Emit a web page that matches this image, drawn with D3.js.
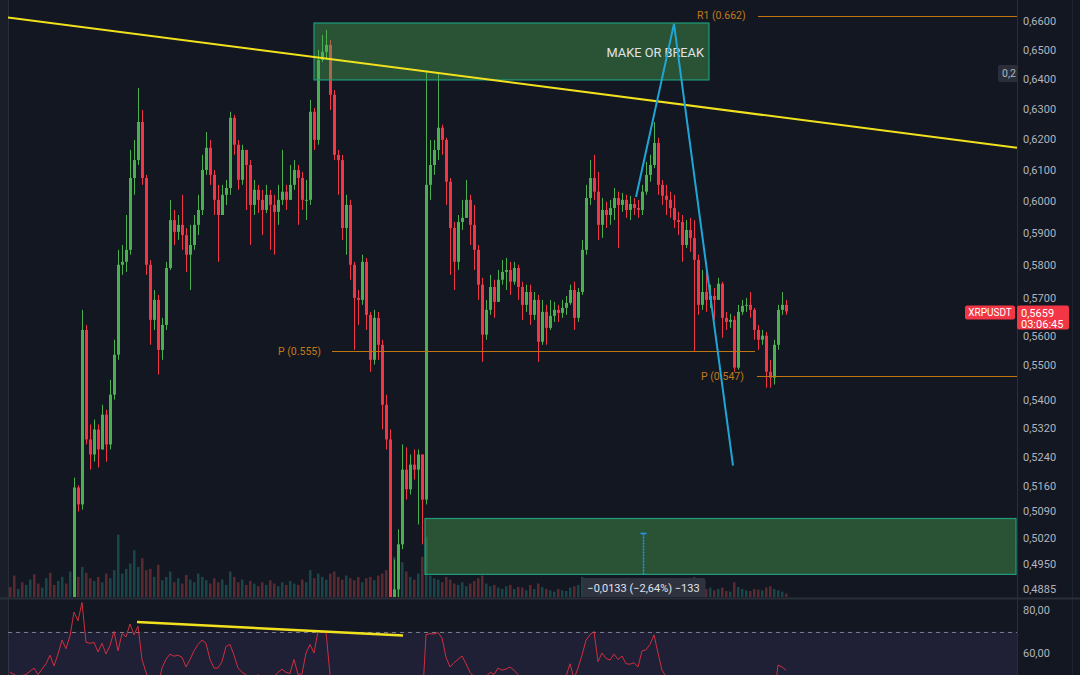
<!DOCTYPE html>
<html>
<head>
<meta charset="utf-8">
<script src="https://cdn.jsdelivr.net/npm/d3@7"></script>
<style>
  body { margin: 0; background: #131722; }
  svg { display: block; font-family: Roboto, "Noto Sans", sans-serif; }
</style>
</head>
<body>
<script>
// candle data (XRPUSDT), open = previous close
const firstOpen = 0.4800;
const closes = [
  .4790,.4760,.4800,.4740,.4780,.4810,.4770,.4730,.4760,.4800,.4790,.4750,.4780,.4820,.4800,.4830,
  .5155,.5109,.5604,.5288,.5246,.5316,.5260,.5358,.5274,.5415,.5531,.5801,.5810,.5847,.6074,.6132,
  .6257,.6074,.5801,.5634,.5694,.5545,.5619,.5791,.5940,.5903,.5925,.5893,.5832,.5862,.5925,.5972,
  .6100,.6172,.6084,.6004,.5956,.6020,.6042,.6271,.6182,.6068,.6165,.6116,.5988,.6036,.6004,.5972,
  .6020,.5988,.5966,.6004,.6030,.6004,.6052,.6100,.6074,.6004,.6004,.6291,.6198,.6466,.6494,.6518,
  .6348,.6149,.6132,.5915,.5988,.5801,.5700,.5694,.5810,.5649,.5516,.5640,.5560,.5386,.5288,.4858,
  .4884,.5002,.5204,.5150,.5218,.5204,.5246,.5122,.6052,.6116,.6165,.6238,.6198,.6062,.5915,.5810,
  .5934,.5947,.6004,.5925,.5847,.5740,.5590,.5664,.5733,.5688,.5755,.5779,.5785,.5749,.5791,.5733,
  .5679,.5718,.5649,.5694,.5569,.5658,.5610,.5646,.5664,.5655,.5670,.5685,.5724,.5640,.5718,.5847,
  .6010,.6074,.6030,.5925,.5972,.5956,.5978,.6010,.5988,.6004,.5972,.5991,.5978,.5972,.6030,.6084,
  .6116,.6188,.6052,.6017,.6004,.5978,.5940,.5934,.5862,.5909,.5884,.5816,.5679,.5718,.5694,.5706,
  .5694,.5743,.5640,.5628,.5634,.5493,.5658,.5676,.5679,.5664,.5604,.5575,.5587,.5481,.5464,.5560,
  .5664,.5679,.5659
];
const highs = [
  .4825,.4800,.4835,.4790,.4815,.4845,.4810,.4775,.4800,.4840,.4830,.4790,.4820,.4850,.4840,.4855,
  .5182,.5161,.5664,.5619,.5330,.5344,.5330,.5386,.5372,.5458,.5575,.5847,.5862,.5956,.6165,.6198,
  .6371,.6297,.6084,.5816,.5724,.5709,.5640,.5810,.6004,.5972,.5956,.6020,.5915,.5925,.5956,.6020,
  .6149,.6224,.6198,.6100,.6052,.6052,.6068,.6291,.6281,.6198,.6182,.6165,.6132,.6068,.6052,.6036,
  .6052,.6036,.6020,.6052,.6165,.6052,.6116,.6132,.6116,.6094,.6068,.6331,.6304,.6501,.6552,.6570,
  .6535,.6364,.6165,.6149,.6020,.6004,.5810,.5724,.5832,.5822,.5658,.5664,.5658,.5575,.5415,.5316,
  .4962,.5042,.5274,.5266,.5246,.5260,.5260,.5246,.6432,.6198,.6198,.6425,.6248,.6205,.6074,.5934,
  .5956,.6004,.6068,.6020,.5988,.5862,.5761,.5694,.5770,.5755,.5785,.5816,.5822,.5810,.5810,.5801,
  .5749,.5740,.5740,.5718,.5709,.5694,.5679,.5694,.5688,.5679,.5694,.5706,.5740,.5749,.5730,.5878,
  .6052,.6132,.6149,.6094,.6010,.5998,.6004,.6042,.6030,.6026,.6020,.6017,.6010,.6004,.6052,.6126,
  .6149,.6257,.6205,.6068,.6052,.6030,.6020,.5966,.5956,.5940,.5947,.5940,.5832,.5785,.5810,.5740,
  .5730,.5761,.5749,.5658,.5652,.5646,.5679,.5694,.5700,.5718,.5670,.5619,.5604,.5598,.5516,.5575,
  .5679,.5718,.5694
];
const lows = [
  .4750,.4720,.4755,.4700,.4740,.4770,.4725,.4690,.4720,.4760,.4750,.4710,.4740,.4780,.4760,.4790,
  .4858,.5090,.5095,.5274,.5204,.5226,.5210,.5274,.5226,.5260,.5401,.5516,.5770,.5779,.5832,.6020,
  .6116,.6052,.5770,.5560,.5604,.5473,.5516,.5604,.5785,.5862,.5878,.5847,.5779,.5724,.5847,.5893,
  .5956,.6084,.6052,.5956,.5810,.5972,.5988,.6020,.6149,.6036,.6052,.5972,.5862,.5956,.5962,.5893,
  .5962,.5847,.5832,.5925,.5988,.5972,.6004,.6036,.5925,.5972,.5940,.5988,.6165,.6182,.6459,.6466,
  .6297,.6132,.6020,.5878,.5832,.5755,.5545,.5619,.5679,.5604,.5481,.5502,.5516,.5316,.5260,.4807,
  .4807,.4858,.4989,.5122,.5136,.5177,.5055,.5002,.5109,.6004,.6084,.6132,.6149,.5988,.5770,.5724,
  .5785,.5909,.5972,.5862,.5785,.5694,.5510,.5575,.5649,.5640,.5694,.5740,.5724,.5709,.5740,.5694,
  .5634,.5658,.5619,.5634,.5510,.5560,.5560,.5604,.5628,.5628,.5640,.5649,.5679,.5604,.5628,.5709,
  .5832,.5988,.6004,.5878,.5884,.5915,.5925,.5940,.5853,.5966,.5947,.5940,.5956,.5947,.5956,.6020,
  .6062,.6106,.6020,.5988,.5956,.5947,.5915,.5893,.5810,.5853,.5841,.5542,.5649,.5664,.5658,.5670,
  .5634,.5700,.5581,.5604,.5610,.5481,.5487,.5649,.5658,.5640,.5575,.5545,.5560,.5435,.5435,.5444,
  .5545,.5649,.5649
];
const volumes = [
  15,32,12,22,18,26,34,20,14,28,36,18,24,30,20,38,
  40,30,45,36,28,24,30,22,35,28,40,93,35,42,50,70,
  45,58,40,42,30,48,25,30,38,22,28,20,33,26,22,35,
  30,25,20,28,22,26,18,38,30,22,26,18,24,20,16,22,
  18,25,20,16,22,18,24,20,18,26,22,40,28,35,30,26,
  35,38,30,26,32,28,25,30,22,28,30,25,32,35,40,55,
  60,45,52,38,30,26,35,60,90,32,28,26,22,30,26,20,
  18,22,16,20,24,28,32,20,16,18,14,12,16,18,12,15,
  14,10,18,12,20,15,12,10,8,12,10,9,14,16,18,30,
  25,20,22,15,12,14,10,12,9,8,10,12,9,14,16,20,
  18,26,20,15,12,14,16,18,15,12,14,30,20,16,12,14,
  10,12,14,9,8,22,15,12,10,9,12,11,10,14,16,12,
  10,8,5
];
const rsi = [
  51,50,49,49.5,50,51.5,53,50,52.5,55,59,54,59.5,66,62,68,
  79,75,83.5,65,64.5,65,60.5,64.5,59.5,63.5,70,61,69,67.5,73.5,68.5,
  72.5,57,51,46,47,45,53,57,59.5,58.5,59,58,53.5,57,61,64,
  66,64.5,57,53,53,56,63,64,59,53,51,50,48,47,50,48,
  47,48,49,51,52.5,51,50.5,57,50,50.3,60,64,60,70,69.5,69.8,
  50,46,44,40,42,38,35,36,33,34,30,32,28,26,22,20,
  22,25,30,29,31,30,32,35,68.5,69,68.8,69.5,67,58,53.5,55.5,
  57,58.6,55,51,49,46,44,49,51,50,53,52,52.5,53.5,52,50,
  48,49,47,48,45,47,46,47,48,47,48,49,55,48,53,59,
  66,68.5,70,56,60,57.5,56.7,59.5,57,58.6,55,54.8,55.5,53.5,61,61.5,
  64,68.4,60,52,49,47,45,44,40,41,38,30,33,32,34,33,
  38,34,35,25,34,36,38,35,32,34,31,28,27,26,25,38,
  54.4,53.5,52
];

// axis tick labels
const priceTicks = [0.66,0.65,0.64,0.63,0.62,0.61,0.60,0.59,0.58,0.57,0.56,0.55,0.54,0.532,0.524,0.516,0.509,0.502,0.495,0.4885];
const rsiTicks = [80, 60];

// drawings: [candle index, price]
const trendLine = [[-2.5, 0.6617], [251.75, 0.6172]];
const zigzag = [[156.5, 0.6013], [166, 0.6591], [180.75, 0.5215]];
const boxTop = [[76, 0.6594], [174.75, 0.6398]];
const boxBottom = [[103.75, 0.5071], [251.5, 0.4923]];
const pivots = [
  {label: "R1 (0.662)", value: 0.662, from: 187, to: 252, labelAt: 171.75},
  {label: "P (0.555)", value: 0.5541, from: 80.5, to: 186.25, labelAt: 67},
  {label: "P (0.547)", value: 0.5469, from: 186.75, to: 252, labelAt: 172.75}
];
const rsiTrend = [[31.75, 74.4], [98.25, 68.1]];
const measure = {at: 158.25, top: 0.5031, bottom: 0.4920, text: "\u22120,0133 (\u22122,64%) \u2212133"};

const W = 1080, H = 675;
const chartRight = 1017, paneBottom = 597;

const candles = closes.map((c, i) => {
  const o = i === 0 ? firstOpen : closes[i - 1];
  return {i, o, c, h: Math.max(highs[i], o, c), l: Math.min(lows[i], o, c), v: volumes[i], up: c >= o};
});

const x = d3.scaleLinear().domain([0, closes.length - 1]).range([10, 786]);
const y = d3.scaleLog().domain([0.4885, 0.66]).range([589, 21.3]);
const yVol = d3.scaleLinear().domain([0, 100]).range([paneBottom, 530]);
const yRsi = d3.scaleLinear().domain([60, 80]).range([653, 610]);

const green = "#4caf50", red = "#f23645";

const svg = d3.select("body").append("svg")
  .attr("width", W).attr("height", H);

const defs = svg.append("defs");
defs.append("clipPath").attr("id", "mainClip")
  .append("rect").attr("x", 8).attr("y", 0).attr("width", chartRight - 8).attr("height", paneBottom);
defs.append("clipPath").attr("id", "rsiClip")
  .append("rect").attr("x", 8).attr("y", 599).attr("width", chartRight - 8).attr("height", H - 599);

// backgrounds
svg.append("rect").attr("width", W).attr("height", H).attr("fill", "#131722");
svg.append("rect").attr("x", 0).attr("y", 0).attr("width", 8).attr("height", H).attr("fill", "#1a1e29");
svg.append("line").attr("x1", 8.5).attr("x2", 8.5).attr("y1", 0).attr("y2", H).attr("stroke", "#2a2e39");
svg.append("line").attr("x1", chartRight + 0.5).attr("x2", chartRight + 0.5).attr("y1", 0).attr("y2", H).attr("stroke", "#2a2e39");
svg.append("line").attr("x1", 1072.5).attr("x2", 1072.5).attr("y1", 0).attr("y2", H).attr("stroke", "#1f232e");
svg.append("line").attr("x1", 0).attr("x2", W).attr("y1", 598.5).attr("y2", 598.5).attr("stroke", "#2a2e39").attr("stroke-width", 2);

const main = svg.append("g").attr("clip-path", "url(#mainClip)");

// volume
main.append("g").selectAll("rect").data(candles).join("rect")
  .attr("x", d => x(d.i) - 1)
  .attr("y", d => yVol(d.v))
  .attr("width", 2.5)
  .attr("height", d => paneBottom - yVol(d.v))
  .attr("fill", d => d.up ? "#26a69a" : "#ef5350")
  .attr("opacity", 0.33);

// candles
const cg = main.append("g");
cg.selectAll("line").data(candles).join("line")
  .attr("x1", d => x(d.i) + 0.5).attr("x2", d => x(d.i) + 0.5)
  .attr("y1", d => y(d.h)).attr("y2", d => y(d.l))
  .attr("stroke", d => d.up ? green : red).attr("stroke-width", 1);
cg.selectAll("rect").data(candles).join("rect")
  .attr("x", d => x(d.i) - 1)
  .attr("y", d => y(Math.max(d.o, d.c)))
  .attr("width", 3)
  .attr("height", d => Math.max(1, Math.abs(y(d.o) - y(d.c))))
  .attr("fill", d => d.up ? green : red);

// zones
[boxTop, boxBottom].forEach(b => {
  main.append("rect")
    .attr("x", x(b[0][0])).attr("y", y(b[0][1]))
    .attr("width", x(b[1][0]) - x(b[0][0]))
    .attr("height", y(b[1][1]) - y(b[0][1]))
    .attr("fill", "rgba(76,175,80,0.4)")
    .attr("stroke", "#1f9c7c").attr("stroke-width", 1.2);
});
main.append("text")
  .attr("x", x(boxTop[1][0]) - 5).attr("y", y(boxTop[0][1]) + 34)
  .attr("text-anchor", "end").attr("font-size", 12.8).attr("fill", "#e0e3eb")
  .text("MAKE OR BREAK");

// pivot levels
pivots.forEach(p => {
  main.append("line")
    .attr("x1", x(p.from)).attr("x2", x(p.to))
    .attr("y1", Math.round(y(p.value)) + 0.5).attr("y2", Math.round(y(p.value)) + 0.5)
    .attr("stroke", "#c0760e").attr("stroke-width", 1);
  main.append("text")
    .attr("x", x(p.labelAt)).attr("y", y(p.value)).attr("dy", "0.35em")
    .attr("font-size", 10.5).attr("fill", "#c27a18")
    .text(p.label);
});

// trend line and zigzag
const line = d3.line().x(d => x(d[0])).y(d => y(d[1]));
main.append("path").attr("d", line(trendLine))
  .attr("fill", "none").attr("stroke", "#f2e21e").attr("stroke-width", 2);
main.append("path").attr("d", line(zigzag))
  .attr("fill", "none").attr("stroke", "#20a6d6").attr("stroke-width", 2);

// measure tool
const mx = Math.round(x(measure.at)) + 0.5;
main.append("line").attr("x1", mx).attr("x2", mx)
  .attr("y1", y(measure.top)).attr("y2", y(measure.bottom))
  .attr("stroke", "#2196f3").attr("stroke-width", 1.5).attr("stroke-dasharray", "2,1");
main.append("line").attr("x1", mx - 3).attr("x2", mx + 3)
  .attr("y1", y(measure.top)).attr("y2", y(measure.top))
  .attr("stroke", "#2196f3").attr("stroke-width", 1.5);
main.append("rect").attr("x", mx - 61).attr("y", 578).attr("width", 123).attr("height", 20).attr("rx", 3)
  .attr("fill", "#2f3340");
main.append("text").attr("x", mx).attr("y", 592)
  .attr("text-anchor", "middle").attr("font-size", 11).attr("fill", "#e0e3eb")
  .text(measure.text);

// small clipped label top right
main.append("rect").attr("x", 998).attr("y", 65).attr("width", 22).attr("height", 17).attr("rx", 2).attr("fill", "#2a2e39");
main.append("text").attr("x", 1002).attr("y", 77).attr("font-size", 10.5).attr("fill", "#b2b5be").text("0,2");

// RSI pane
const rsiG = svg.append("g").attr("clip-path", "url(#rsiClip)");
rsiG.append("rect").attr("x", 8).attr("y", yRsi(70)).attr("width", chartRight - 8).attr("height", H - yRsi(70))
  .attr("fill", "rgba(126,87,194,0.12)");
rsiG.append("line").attr("x1", 8).attr("x2", chartRight)
  .attr("y1", Math.round(yRsi(70)) + 0.5).attr("y2", Math.round(yRsi(70)) + 0.5)
  .attr("stroke", "#787b86").attr("stroke-dasharray", "4,4");
rsiG.append("path")
  .attr("d", d3.line().x((d, i) => x(i)).y(d => yRsi(d))(rsi))
  .attr("fill", "none").attr("stroke", "#cf2f3e").attr("stroke-width", 1);
rsiG.append("path")
  .attr("d", d3.line().x(d => x(d[0])).y(d => yRsi(d[1]))(rsiTrend))
  .attr("fill", "none").attr("stroke", "#f2e21e").attr("stroke-width", 2.5);

// price axis
const fmt = d => d.toFixed(4).replace(".", ",");
const axisP = svg.append("g").attr("transform", `translate(${chartRight},0)`)
  .call(d3.axisRight(y).tickValues(priceTicks).tickFormat(fmt).tickSize(0).tickPadding(6));
axisP.select(".domain").remove();
axisP.selectAll("text").attr("fill", "#b2b5be").attr("font-size", 11).attr("font-family", "Roboto, sans-serif");
// the 0,5600 label sits just under the last-price tag, as in the reference
axisP.selectAll(".tick").filter(d => d === 0.56).select("text").attr("dy", "0.75em");

const axisR = svg.append("g").attr("transform", `translate(${chartRight},0)`)
  .call(d3.axisRight(yRsi).tickValues(rsiTicks).tickFormat(d => d.toFixed(2).replace(".", ",")).tickSize(0).tickPadding(6));
axisR.select(".domain").remove();
axisR.selectAll("text").attr("fill", "#b2b5be").attr("font-size", 11).attr("font-family", "Roboto, sans-serif");

// last price labels
const last = candles[candles.length - 1];
svg.append("rect").attr("x", 965).attr("y", y(last.c) - 6).attr("width", 50).attr("height", 14).attr("rx", 2).attr("fill", red);
svg.append("text").attr("x", 990).attr("y", y(last.c) + 4.5).attr("text-anchor", "middle")
  .attr("font-size", 10).attr("fill", "#ffffff").text("XRPUSDT");
svg.append("rect").attr("x", chartRight).attr("y", y(last.c) - 6).attr("width", 52).attr("height", 24).attr("rx", 2).attr("fill", red);
svg.append("text").attr("x", chartRight + 4).attr("y", y(last.c) + 5).attr("font-size", 11).attr("fill", "#ffffff")
  .text(fmt(last.c));
svg.append("text").attr("x", chartRight + 4).attr("y", y(last.c) + 16.5).attr("font-size", 11).attr("fill", "#ffffff")
  .text("03:06:45");
</script>
</body>
</html>
